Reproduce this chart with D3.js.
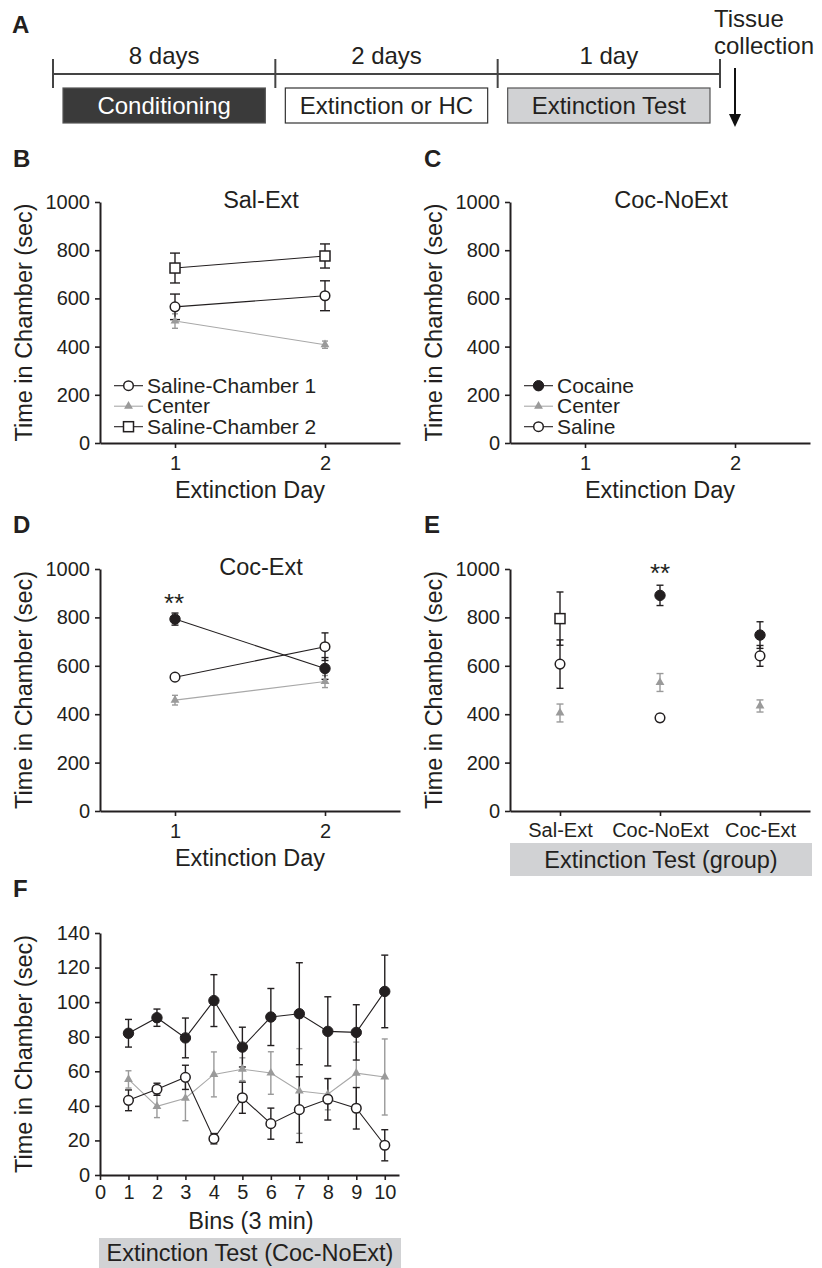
<!DOCTYPE html>
<html><head><meta charset="utf-8">
<script src="https://cdn.jsdelivr.net/npm/d3@7"></script>
<style>
body{margin:0;background:#fff}
svg{display:block}
text{font-family:"Liberation Sans",Arial,Helvetica,sans-serif;fill:#231f20}
</style>
</head><body>
<svg id="c" width="822" height="1268"></svg>
<script>
// ---------- DATA ----------
const timelineStages = ["8 days","2 days","1 day"];
const timelineBoxes = ["Conditioning","Extinction or HC","Extinction Test"];
const days = [1,2];
const chamberTicks = [0,200,400,600,800,1000];

// B: Sal-Ext
const bSal1 = [565,611], bSal1Err = [53,62];
const bCenter = [506,408], bCenterErr = [30,15];
const bSal2 = [726,776], bSal2Err = [62,50];

// D: Coc-Ext
const dCoc = [793,589], dCocErr = [25,45];
const dSal = [553,679], dSalErr = [10,57];
const dCenter = [458,535], dCenterErr = [20,25];

// E: Extinction test by group
const groups = ["Sal-Ext","Coc-NoExt","Coc-Ext"];
const eSal2 = [795,null,null], eSal2Err = [110,null,null];
const eCoc = [null,891,727], eCocErr = [null,42,55];
const eSal = [607,385,641], eSalErr = [100,15,43];
const eCenter = [405,531,434], eCenterErr = [37,37,25];

// F: bins of extinction test (Coc-NoExt)
const bins = [1,2,3,4,5,6,7,8,9,10];
const binTicks = [0,1,2,3,4,5,6,7,8,9,10];
const binYTicks = [0,20,40,60,80,100,120,140];
const fCoc = [82,91,79.3,100.9,74,91.4,93.3,83.1,82.5,106.2];
const fCocErr = [8,5,11.5,15,11.5,16.5,29.5,20,16,21];
const fSal = [43.2,49.6,56.5,21,44.7,29.7,37.8,43.8,38.6,17.2];
const fSalErr = [6,3.5,7,3,9,9,19,12,12,9];
const fCenter = [55.3,39.7,44.4,58.2,61.2,59,48.6,46.7,58.9,56.7];
const fCenterErr = [5,6.5,13,13,6.6,12.3,24.5,9,18,22];

// ---------- DRAW ----------
const svg = d3.select("#c");
const INK = "#231f20", GREY = "#9a9a9a", GREYLINE = "#a8a8a8";
const TICKF = 20, TITLEF = 23.5;
const plain = d => String(d);

function panelLetter(t, x, y){
  svg.append("text").attr("x",x).attr("y",y).attr("font-size",24).attr("font-weight","bold").text(t);
}

// ---- Panel A ----
panelLetter("A",12,33);
const tx = d3.scalePoint().domain(d3.range(4)).range([53,720]);
const gA = svg.append("g");
gA.append("line").attr("x1",tx(0)).attr("x2",tx(3)).attr("y1",74).attr("y2",74).attr("stroke","#444").attr("stroke-width",2);
d3.range(4).forEach(i=>{
  gA.append("line").attr("x1",tx(i)).attr("x2",tx(i)).attr("y1",59).attr("y2",88).attr("stroke","#444").attr("stroke-width",2);
});
const boxFill = ["#3a3a3a","#ffffff","#d1d2d4"];
const boxText = ["#ffffff",INK,INK];
timelineStages.forEach((s,i)=>{
  const cx = (tx(i)+tx(i+1))/2;
  gA.append("text").attr("x",cx).attr("y",64).attr("text-anchor","middle").attr("font-size",24).text(s);
  gA.append("rect").attr("x",tx(i)+10).attr("y",88).attr("width",tx(i+1)-tx(i)-20).attr("height",35)
    .attr("fill",boxFill[i]).attr("stroke",i===1?"#333":"#555").attr("stroke-width",1.2);
  gA.append("text").attr("x",cx).attr("y",114).attr("text-anchor","middle").attr("font-size",24)
    .style("fill",boxText[i]).text(timelineBoxes[i]);
});
gA.append("text").attr("x",714).attr("y",27).attr("font-size",24).text("Tissue");
gA.append("text").attr("x",714).attr("y",54).attr("font-size",24).text("collection");
gA.append("line").attr("x1",735).attr("x2",735).attr("y1",68).attr("y2",116).attr("stroke","#111").attr("stroke-width",2);
gA.append("path").attr("d","M729,114 L741,114 L735,127 Z").attr("fill","#111");

// ---- helpers ----
function axes(g, x, y, yTicks, xTicks, xLabY){
  const ay = g.append("g").attr("transform",`translate(${x.range()[0]},0)`)
    .call(d3.axisLeft(y).tickValues(yTicks).tickSize(5).tickSizeOuter(0).tickPadding(5).tickFormat(plain));
  const ax = g.append("g").attr("transform",`translate(0,${y.range()[0]})`)
    .call(d3.axisBottom(x).tickValues(xTicks).tickSize(5).tickSizeOuter(0).tickFormat(plain));
  [ay,ax].forEach(a=>{
    a.select(".domain").attr("stroke",INK).attr("stroke-width",2);
    a.selectAll(".tick line").attr("stroke",INK).attr("stroke-width",1.6);
    a.selectAll(".tick text").attr("font-size",TICKF).style("fill",INK)
      .attr("font-family","Liberation Sans,Arial,sans-serif");
  });
  ax.selectAll(".tick text").attr("dy",0).attr("y",xLabY||27);
}
function yLabel(g, x, y, text){
  const cy = (y.range()[0]+y.range()[1])/2;
  g.append("text").attr("transform",`translate(${x},${cy}) rotate(-90)`).attr("text-anchor","middle")
    .attr("font-size",TITLEF).text(text);
}
function marker(g, kind, cx, cy){
  if(kind==="open"){
    g.append("circle").attr("cx",cx).attr("cy",cy).attr("r",4.8).attr("fill","#fff").attr("stroke",INK).attr("stroke-width",1.5);
  } else if(kind==="filled"){
    g.append("circle").attr("cx",cx).attr("cy",cy).attr("r",5.2).attr("fill",INK).attr("stroke",INK).attr("stroke-width",1);
  } else if(kind==="square"){
    g.append("rect").attr("x",cx-5).attr("y",cy-5).attr("width",10).attr("height",10).attr("fill","#fff").attr("stroke",INK).attr("stroke-width",1.5);
  } else if(kind==="tri"){
    g.append("path").attr("transform",`translate(${cx},${cy})`).attr("d",d3.symbol(d3.symbolTriangle,34)()).attr("fill",GREY);
  }
}
function series(g, x, y, xs, vals, errs, kind, opts={}){
  const col = kind==="tri" ? GREY : INK;
  const pts = xs.map((v,i)=>({x:v,y:vals[i],e:errs[i]})).filter(d=>d.y!=null);
  if(opts.line!==false){
    g.append("path").datum(pts).attr("fill","none").attr("stroke",kind==="tri"?GREYLINE:INK).attr("stroke-width",1.1)
      .attr("d",d3.line().x(d=>x(d.x)).y(d=>y(d.y)));
  }
  const cw = opts.cap||4;
  pts.forEach(d=>{
    const px=x(d.x), t=y(d.y+d.e), b=y(d.y-d.e);
    g.append("line").attr("x1",px).attr("x2",px).attr("y1",t).attr("y2",b).attr("stroke",col).attr("stroke-width",1.4);
    [t,b].forEach(yy=>g.append("line").attr("x1",px-cw).attr("x2",px+cw).attr("y1",yy).attr("y2",yy).attr("stroke",col).attr("stroke-width",1.4));
  });
  return ()=>pts.forEach(d=>marker(g,kind,x(d.x),y(d.y)));
}
function legend(g, x0, rows){
  rows.forEach((r,i)=>{
    const cy = 385.7 + i*20.5;
    g.append("line").attr("x1",x0).attr("x2",x0+29).attr("y1",cy).attr("y2",cy)
      .attr("stroke",r.kind==="tri"?GREYLINE:INK).attr("stroke-width",1.1);
    marker(g,r.kind,x0+14.5,cy);
    g.append("text").attr("x",x0+33).attr("y",cy+7).attr("font-size",21).text(r.label);
  });
}

// ---- Panel B ----
panelLetter("B",13,167);
{
  const g = svg.append("g");
  const x = d3.scaleLinear().domain([0.5,2.5]).range([100,400]);
  const y = d3.scaleLinear().domain([0,1000]).range([443,202]);
  axes(g,x,y,chamberTicks,days);
  yLabel(g,32,y,"Time in Chamber (sec)");
  g.append("text").attr("x",261).attr("y",208).attr("text-anchor","middle").attr("font-size",TITLEF).text("Sal-Ext");
  g.append("text").attr("x",250).attr("y",498).attr("text-anchor","middle").attr("font-size",TITLEF).text("Extinction Day");
  const m1 = series(g,x,y,days,bCenter,bCenterErr,"tri",{cap:3});
  const m2 = series(g,x,y,days,bSal1,bSal1Err,"open",{cap:5});
  const m3 = series(g,x,y,days,bSal2,bSal2Err,"square",{cap:5});
  m1();m2();m3();
  legend(g,114,[{kind:"open",label:"Saline-Chamber 1"},{kind:"tri",label:"Center"},{kind:"square",label:"Saline-Chamber 2"}]);
}

// ---- Panel C ----
panelLetter("C",424,167);
{
  const g = svg.append("g");
  const x = d3.scaleLinear().domain([0.5,2.5]).range([510,810]);
  const y = d3.scaleLinear().domain([0,1000]).range([443,202]);
  axes(g,x,y,chamberTicks,days);
  yLabel(g,442,y,"Time in Chamber (sec)");
  g.append("text").attr("x",671).attr("y",208).attr("text-anchor","middle").attr("font-size",TITLEF).text("Coc-NoExt");
  g.append("text").attr("x",660).attr("y",498).attr("text-anchor","middle").attr("font-size",TITLEF).text("Extinction Day");
  legend(g,524,[{kind:"filled",label:"Cocaine"},{kind:"tri",label:"Center"},{kind:"open",label:"Saline"}]);
}

// ---- Panel D ----
panelLetter("D",13,533);
{
  const g = svg.append("g");
  const x = d3.scaleLinear().domain([0.5,2.5]).range([100,400]);
  const y = d3.scaleLinear().domain([0,1000]).range([811,569]);
  axes(g,x,y,chamberTicks,days);
  yLabel(g,32,y,"Time in Chamber (sec)");
  g.append("text").attr("x",261).attr("y",575).attr("text-anchor","middle").attr("font-size",TITLEF).text("Coc-Ext");
  g.append("text").attr("x",250).attr("y",866).attr("text-anchor","middle").attr("font-size",TITLEF).text("Extinction Day");
  const m1 = series(g,x,y,days,dCenter,dCenterErr,"tri",{cap:3});
  const m2 = series(g,x,y,days,dSal,dSalErr,"open",{cap:3.5});
  const m3 = series(g,x,y,days,dCoc,dCocErr,"filled",{cap:3.5});
  m1();m2();m3();
  g.append("text").attr("x",x(1)-1).attr("y",612).attr("text-anchor","middle").attr("font-size",26).text("**");
}

// ---- Panel E ----
panelLetter("E",424,533);
{
  const g = svg.append("g");
  const x = d3.scalePoint().domain(groups).range([510,810]).padding(0.5);
  const y = d3.scaleLinear().domain([0,1000]).range([811,569]);
  axes(g,x,y,chamberTicks,groups,26);
  yLabel(g,442,y,"Time in Chamber (sec)");
  g.append("rect").attr("x",510).attr("y",843).attr("width",302).attr("height",33).attr("fill","#d1d2d4");
  g.append("text").attr("x",661).attr("y",868).attr("text-anchor","middle").attr("font-size",TITLEF).text("Extinction Test (group)");
  const o = {line:false,cap:3.5};
  const m1 = series(g,x,y,groups,eCenter,eCenterErr,"tri",o);
  const m2 = series(g,x,y,groups,eSal,eSalErr,"open",o);
  const m3 = series(g,x,y,groups,eSal2,eSal2Err,"square",o);
  const m4 = series(g,x,y,groups,eCoc,eCocErr,"filled",o);
  m1();m2();m3();m4();
  g.append("text").attr("x",x("Coc-NoExt")).attr("y",582).attr("text-anchor","middle").attr("font-size",26).text("**");
}

// ---- Panel F ----
panelLetter("F",13,897);
{
  const g = svg.append("g");
  const x = d3.scaleLinear().domain([0,10.5]).range([100,399]);
  const y = d3.scaleLinear().domain([0,140]).range([1175,933]);
  axes(g,x,y,binYTicks,binTicks,24);
  yLabel(g,32,y,"Time in Chamber (sec)");
  g.append("text").attr("x",251).attr("y",1229).attr("text-anchor","middle").attr("font-size",TITLEF).text("Bins (3 min)");
  g.append("rect").attr("x",99).attr("y",1238).attr("width",302).attr("height",30).attr("fill","#d1d2d4");
  g.append("text").attr("x",250).attr("y",1261).attr("text-anchor","middle").attr("font-size",TITLEF).text("Extinction Test (Coc-NoExt)");
  const m1 = series(g,x,y,bins,fCenter,fCenterErr,"tri",{cap:3});
  const m2 = series(g,x,y,bins,fSal,fSalErr,"open",{cap:3.5});
  const m3 = series(g,x,y,bins,fCoc,fCocErr,"filled",{cap:3.5});
  m1();m2();m3();
}
</script>
</body></html>
